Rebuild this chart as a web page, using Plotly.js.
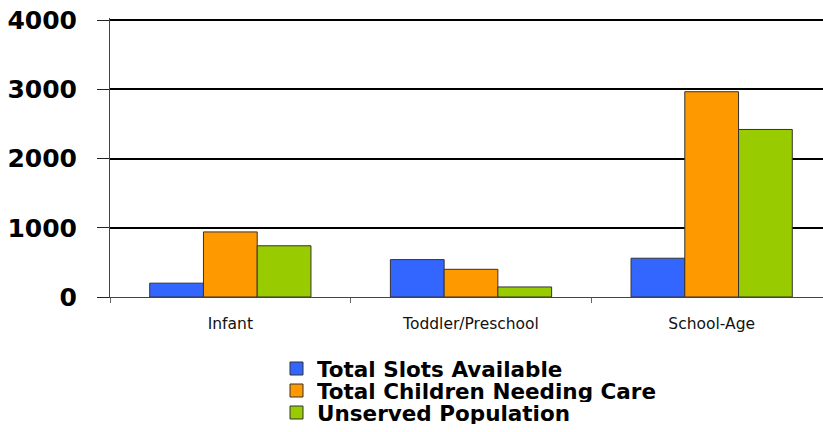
<!DOCTYPE html>
<html>
<head>
<meta charset="utf-8">
<script src="https://cdn.plot.ly/plotly-3.0.1.min.js"></script>
<style>
html, body { margin: 0; padding: 0; width: 823px; height: 432px; overflow: hidden; background: #fff; }
#chart { width: 832px; height: 432px; }
</style>
</head>
<body>
<div id="chart"></div>
<script>
const categories = ["Infant", "Toddler/Preschool", "School-Age"];
const seriesNames = ["Total Slots Available", "Total Children Needing Care", "Unserved Population"];
const slotsAvailable = [200, 540, 560];
const childrenNeedingCare = [940, 400, 2965];
const unservedPopulation = [740, 145, 2420];
const yTickValues = [0, 1000, 2000, 3000, 4000];
const yTickLabels = ["0", "1000", "2000", "3000", "4000"];

const colors = ["#3366ff", "#ff9900", "#99cc00"];
const seriesValues = [slotsAvailable, childrenNeedingCare, unservedPopulation];

const traces = seriesValues.map((vals, i) => ({
  type: "bar",
  name: seriesNames[i],
  x: categories,
  y: vals,
  marker: { color: colors[i], line: { color: "#333333", width: 1 } },
  hoverinfo: "x+y+name"
}));

const plotTop = 18, plotBottomPx = 432 - 135;
const legendRowsPx = [369, 391, 413];
const annotations = seriesNames.map((n, i) => ({
  xref: "paper", yref: "paper", x: 0, y: 0,
  xshift: 316 - 110, yshift: -(legendRowsPx[i] - plotBottomPx),
  xanchor: "left", yanchor: "middle",
  text: n, showarrow: false, borderpad: 0, height: 22, valign: "middle",
  font: { family: "DejaVu Sans", size: 21.5, color: "#000", weight: "bold" }
}));
const shapes = seriesNames.map((n, i) => ({
  type: "rect", xref: "paper", yref: "paper",
  xsizemode: "pixel", ysizemode: "pixel",
  xanchor: 0, yanchor: 0,
  x0: 290 - 110, x1: 303 - 110,
  y0: -(legendRowsPx[i] + 6 - plotBottomPx), y1: -(legendRowsPx[i] - 7 - plotBottomPx),
  fillcolor: colors[i], line: { color: "#333333", width: 1 }
}));

const layout = {
  width: 832, height: 432,
  margin: { l: 110, r: 0, t: plotTop, b: 135, pad: 0 },
  paper_bgcolor: "#ffffff", plot_bgcolor: "#ffffff",
  showlegend: false,
  barmode: "group",
  bargap: 0.33, bargroupgap: 0,
  xaxis: {
    type: "category",
    showline: true, linecolor: "#444444", linewidth: 1,
    ticks: "outside", tickson: "boundaries", ticklen: 5, tickcolor: "#666666",
    ticklabelstandoff: 12,
    tickfont: { family: "DejaVu Sans", size: 15.5, color: "#111" },
    showgrid: false, zeroline: false, fixedrange: true
  },
  yaxis: {
    range: [0, 4030],
    tickvals: yTickValues, ticktext: yTickLabels,
    showline: true, linecolor: "#444444", linewidth: 1,
    ticks: "outside", ticklen: 12, tickcolor: "#222",
    ticklabelstandoff: 15,
    tickfont: { family: "DejaVu Sans", size: 25, color: "#000", weight: "bold" },
    showgrid: true, gridcolor: "#000000", gridwidth: 2,
    zeroline: false, fixedrange: true
  },
  annotations: annotations,
  shapes: shapes
};

Plotly.newPlot("chart", traces, layout, { displayModeBar: false, staticPlot: true });
</script>
</body>
</html>
